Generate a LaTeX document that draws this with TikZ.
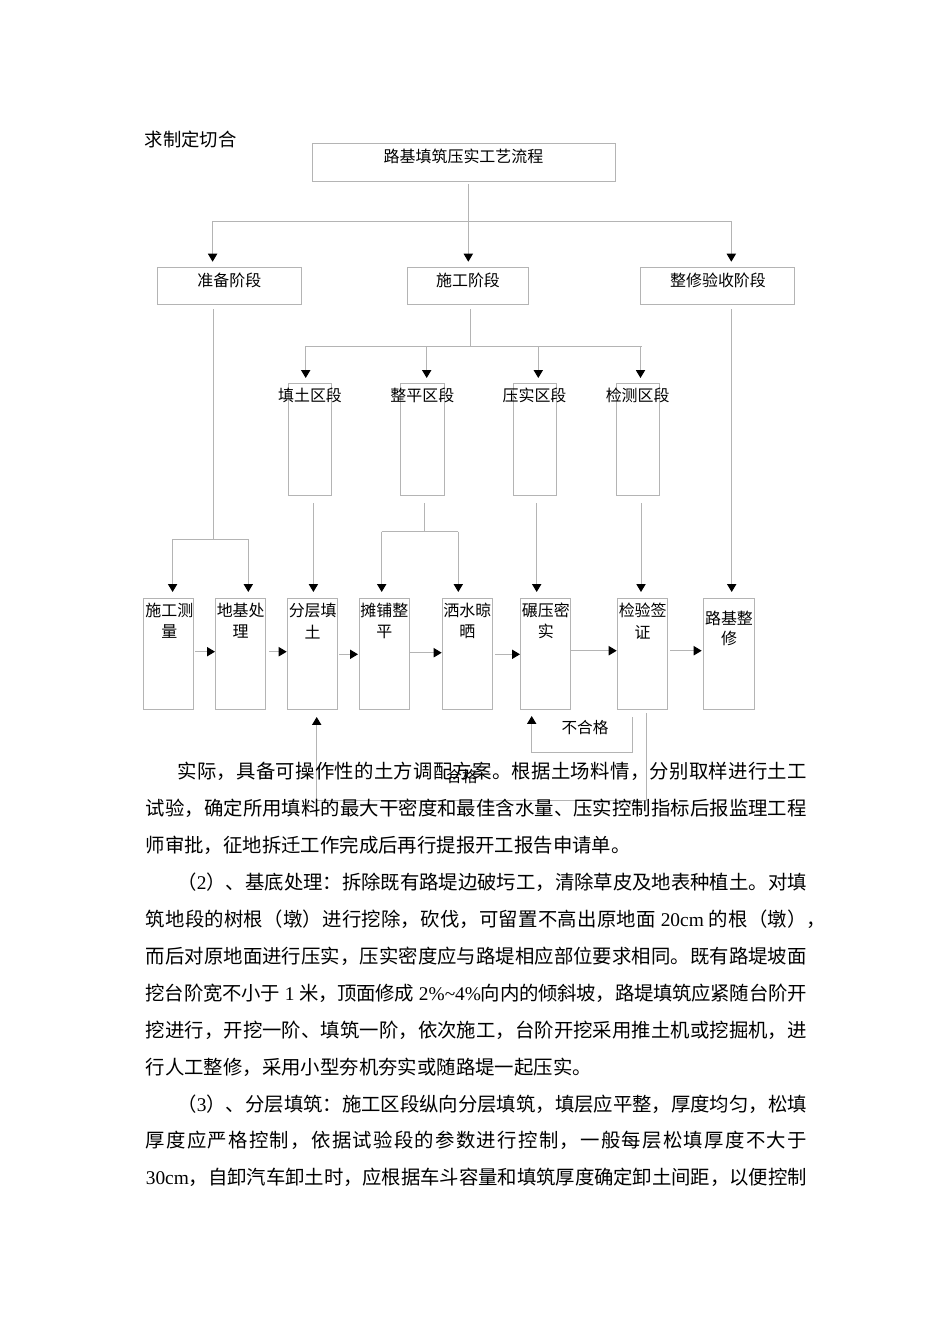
\documentclass[tikz,border=0pt]{standalone}
\usepackage{fontspec}
\setmainfont{Noto Sans CJK SC}
\newfontfamily\tnr{Liberation Serif}
\usetikzlibrary{arrows.meta}
\newdimen\pxu \pxu=0.62661pt
\definecolor{lnc}{RGB}{180,180,180}
\def\spStop{\spStop}
\def\spread#1{\spA#1\spStop}
\def\spA#1{{#1}\spB}
\def\spB#1{\ifx\spStop#1\else\hskip0pt plus 1fil minus 1fil{#1}\expandafter\spB\fi}
\newcommand\jline[2]{\makebox[#1\pxu][s]{\spread{#2}}}
\begin{document}
\begin{tikzpicture}[x=0.62661pt,y=-0.62661pt,
 ln/.style={draw=lnc,line width=0.6pt},
 arr/.style={draw=lnc,line width=0.6pt,-{Triangle[length=5pt,width=5.8pt,color=black]}},
 bx/.style={draw=lnc,line width=0.6pt,anchor=north west,inner sep=0pt,outer sep=0pt},
 dt/.style={inner sep=0pt,align=center,font=\fontsize{10pt}{13.6pt}\selectfont},
 lbl/.style={inner sep=0pt,font=\fontsize{9.8pt}{12pt}\selectfont},
 bl/.style={anchor=base west,inner sep=0pt,font=\fontsize{12.15pt}{14pt}\selectfont}]
\fill[white] (0,0) rectangle (950,1344);
\useasboundingbox (0,0) rectangle (950,1344);

\node[anchor=west,inner sep=0pt,font=\fontsize{11.5pt}{12pt}\selectfont] (hd) at (144.5,139) {求制定切合};

% title
\node[bx,minimum width=303\pxu,minimum height=37.7\pxu] (title) at (312.6,143.3) {};
\node[dt] (titlet) at (463.5,156.7) {路基填筑压实工艺流程};

% level 2
\node[bx,minimum width=144.7\pxu,minimum height=37\pxu] (zb) at (157,267.3) {};
\node[bx,minimum width=121.3\pxu,minimum height=37\pxu] (sg) at (407.4,267.3) {};
\node[bx,minimum width=153.5\pxu,minimum height=37\pxu] (zx) at (640.5,267.3) {};
\node[dt] (zbt) at (229.3,280) {准备阶段};
\node[dt] (sgt) at (468,280) {施工阶段};
\node[dt] (zxt) at (718,280) {整修验收阶段};

% mid boxes
\node[bx,minimum width=43.4\pxu,minimum height=111.7\pxu] (m1) at (288.3,383.3) {};
\node[bx,minimum width=43.3\pxu,minimum height=111.7\pxu] (m2) at (400.7,383.3) {};
\node[bx,minimum width=43.4\pxu,minimum height=111.7\pxu] (m3) at (513.3,383.3) {};
\node[bx,minimum width=42.6\pxu,minimum height=111.7\pxu] (m4) at (616.7,383.3) {};
\node[dt] (m1t) at (310,395) {填土区段};
\node[dt] (m2t) at (422.3,395) {整平区段};
\node[dt] (m3t) at (534.5,395) {压实区段};
\node[dt] (m4t) at (637.7,395) {检测区段};

% bottom boxes
\node[bx,minimum width=50\pxu,minimum height=111\pxu] (b1) at (143.3,598) {};
\node[bx,minimum width=50\pxu,minimum height=111\pxu] (b2) at (215.7,598) {};
\node[bx,minimum width=50\pxu,minimum height=111\pxu] (b3) at (287.7,598) {};
\node[bx,minimum width=50\pxu,minimum height=111\pxu] (b4) at (359.3,598) {};
\node[bx,minimum width=50\pxu,minimum height=111\pxu] (b5) at (442.3,598) {};
\node[bx,minimum width=50\pxu,minimum height=111\pxu] (b6) at (520.7,598) {};
\node[bx,minimum width=50\pxu,minimum height=111\pxu] (b7) at (617.7,598) {};
\node[bx,minimum width=50.6\pxu,minimum height=111\pxu] (b8) at (703.7,598) {};
\node[dt] (b1t) at (169.3,620.8) {施工测\\量};
\node[dt] (b2t) at (240.7,620.8) {地基处\\理};
\node[dt] (b3t) at (312.7,620.8) {分层填\\土};
\node[dt] (b4t) at (384.3,620.8) {摊铺整\\平};
\node[dt] (b5t) at (467.3,620.8) {洒水晾\\晒};
\node[dt] (b6t) at (545.8,620.8) {碾压密\\实};
\node[dt] (b7t) at (642.7,620.8) {检验签\\证};
\node[dt,font=\fontsize{10pt}{12.5pt}\selectfont] (b8t) at (729,628.3) {路基整\\修};

% top connectors
\coordinate (t0) at (468.3,221);
\coordinate (tL) at (212.6,221);
\coordinate (tR) at (731.3,221);
\draw[ln,shorten <=3\pxu] (t0 |- title.south) -- (t0);
\draw[ln] (tL) -- (tR);
\draw[arr,shorten >=5.6\pxu] (tL) -- (tL |- zb.north);
\draw[arr,shorten >=5.6\pxu] (t0) -- (t0 |- sg.north);
\draw[arr,shorten >=5.6\pxu] (tR) -- (tR |- zx.north);

% preparation branch
\coordinate (p0) at (213.5,539.3);
\coordinate (pL) at (172.6,539.3);
\coordinate (pR) at (248.3,539.3);
\draw[ln,shorten <=5\pxu] (p0 |- zb.south) -- (p0);
\draw[ln] (pL) -- (pR);
\draw[arr,shorten >=6\pxu] (pL) -- (pL |- b1.north);
\draw[arr,shorten >=6\pxu] (pR) -- (pR |- b2.north);

% construction branch
\coordinate (s0) at (470,346);
\coordinate (s1) at (305.7,346);
\coordinate (s2) at (426.7,346);
\coordinate (s3) at (538.3,346);
\coordinate (s4) at (640.5,346);
\draw[ln,shorten <=4.7\pxu] (s0 |- sg.south) -- (s0);
\draw[ln] (s1) -- ([xshift=1\pxu]s4);
\draw[arr,shorten >=5.3\pxu] (s1) -- (s1 |- m1.north);
\draw[arr,shorten >=5.3\pxu] (s2) -- (s2 |- m2.north);
\draw[arr,shorten >=5.3\pxu] (s3) -- (s3 |- m3.north);
\draw[arr,shorten >=5.3\pxu] (s4) -- (s4 |- m4.north);

% acceptance branch
\coordinate (x0) at (731.7,300);
\draw[arr,shorten <=4.7\pxu,shorten >=6\pxu] (x0 |- zx.south) -- (x0 |- b8.north);

% mid to bottom
\coordinate (f1) at (313.4,500);
\coordinate (f2) at (424.3,531.7);
\coordinate (f2L) at (381.7,531.7);
\coordinate (f2R) at (458.3,531.7);
\coordinate (f3) at (536.7,500);
\coordinate (f4) at (641,500);
\draw[arr,shorten <=8\pxu,shorten >=6\pxu] (f1 |- m1.south) -- (f1 |- b3.north);
\draw[ln,shorten <=8\pxu] (f2 |- m2.south) -- (f2);
\draw[ln] (f2L) -- (f2R);
\draw[arr,shorten >=6\pxu] (f2L) -- (f2L |- b4.north);
\draw[arr,shorten >=6\pxu] (f2R) -- (f2R |- b5.north);
\draw[arr,shorten <=8\pxu,shorten >=6\pxu] (f3 |- m3.south) -- (f3 |- b6.north);
\draw[arr,shorten <=8\pxu,shorten >=6\pxu] (f4 |- m4.south) -- (f4 |- b7.north);

% horizontal flow arrows
\draw[arr,shorten <=2\pxu,shorten >=0.7\pxu] ([yshift=1.8\pxu]b1.east) -- ([yshift=1.8\pxu]b2.west);
\draw[arr,shorten <=3.3\pxu,shorten >=1\pxu] ([yshift=1.8\pxu]b2.east) -- ([yshift=1.8\pxu]b3.west);
\draw[arr,shorten <=1.3\pxu,shorten >=1.3\pxu] ([yshift=-0.8\pxu]b3.east) -- ([yshift=-0.8\pxu]b4.west);
\draw[arr,shorten <=0.7\pxu,shorten >=0.6\pxu] ([yshift=0.8\pxu]b4.east) -- ([yshift=0.8\pxu]b5.west);
\draw[arr,shorten <=2.7\pxu,shorten >=0.7\pxu] ([yshift=-0.8\pxu]b5.east) -- ([yshift=-0.8\pxu]b6.west);
\draw[arr,shorten <=0.7\pxu,shorten >=1\pxu] ([yshift=2.8\pxu]b6.east) -- ([yshift=2.8\pxu]b7.west);
\draw[arr,shorten <=2.3\pxu,shorten >=2\pxu] ([yshift=2.8\pxu]b7.east) -- ([yshift=2.8\pxu]b8.west);

% feedback loops
\coordinate (n1) at (632,720);
\coordinate (n2) at (632,752.7);
\coordinate (n3) at (531.7,752.7);
\draw[arr,shorten <=8\pxu,shorten >=7\pxu] (n1 |- b7.south) -- (n2) -- (n3) -- (n3 |- b6.south);
\node[lbl] (ng) at (585,728) {不合格};
\coordinate (g1) at (646.7,720);
\coordinate (g2) at (646.7,800);
\coordinate (g3) at (316.7,800);
\draw[arr,shorten <=4\pxu,shorten >=8\pxu] (g1 |- b7.south) -- (g2) -- (g3) -- (g3 |- b3.south);
\node[lbl] (hg) at (462,777) {合格};

% body text
\node[bl] (l1) at (177.2,778.9) {\jline{629.3}{实际，具备可操作性的土方调配方案。根据土场料情，分别取样进行土工}};
\node[bl] (l2) at (145.5,815.8) {\jline{661}{试验，确定所用填料的最大干密度和最佳含水量、压实控制指标后报监理工程}};
\node[bl] (l3) at (145.5,852.7) {师审批，征地拆迁工作完成后再行提报开工报告申请单。};
\node[bl] (l4) at (177.2,889.6) {\jline{629.3}{（{\tnr 2}）、基底处理：拆除既有路堤边破圬工，清除草皮及地表种植土。对填}};
\node[bl] (l5) at (145.5,926.5) {\jline{661}{筑地段的树根（墩）进行挖除，砍伐，可留置不高出原地面{\tnr~20cm~}的根（墩）}，};
\node[bl] (l6) at (145.5,963.4) {\jline{661}{而后对原地面进行压实，压实密度应与路堤相应部位要求相同。既有路堤坡面}};
\node[bl] (l7) at (145.5,1000.3) {\jline{661}{挖台阶宽不小于{\tnr~1~}米，顶面修成{\tnr~2\%\textasciitilde4\%}向内的倾斜坡，路堤填筑应紧随台阶开}};
\node[bl] (l8) at (145.5,1037.2) {\jline{661}{挖进行，开挖一阶、填筑一阶，依次施工，台阶开挖采用推土机或挖掘机，进}};
\node[bl] (l9) at (145.5,1074.1) {行人工整修，采用小型夯机夯实或随路堤一起压实。};
\node[bl] (l10) at (177.2,1111.0) {\jline{629.3}{（{\tnr 3}）、分层填筑：施工区段纵向分层填筑，填层应平整，厚度均匀，松填}};
\node[bl] (l11) at (145.5,1147.9) {\jline{661}{厚度应严格控制，依据试验段的参数进行控制，一般每层松填厚度不大于}};
\node[bl] (l12) at (145.5,1184.8) {\jline{661}{{\tnr 30cm}，自卸汽车卸土时，应根据车斗容量和填筑厚度确定卸土间距，以便控制}};
\end{tikzpicture}
\end{document}
